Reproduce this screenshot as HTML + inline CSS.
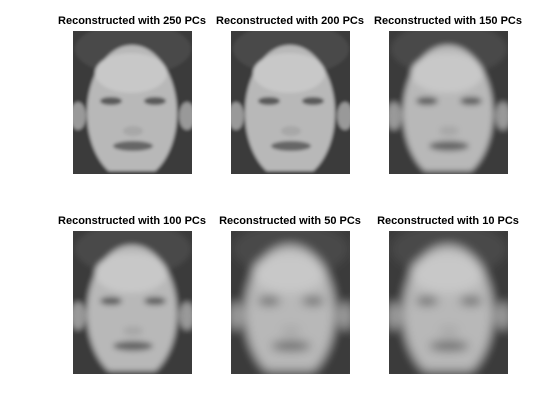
<!DOCTYPE html>
<html><head><style>
body{margin:0;background:#fff;}
svg{display:block}
text{font-family:"Liberation Sans",sans-serif;font-weight:bold;font-size:11px;fill:#000}
</style></head><body>
<svg width="560" height="420">
<defs>
<filter id="b1"><feGaussianBlur stdDeviation="1.5"/></filter>
<filter id="b2"><feGaussianBlur stdDeviation="3"/></filter>
<filter id="b3"><feGaussianBlur stdDeviation="5"/></filter>
<g id="face">
<rect x="-10" y="-10" width="139" height="163" fill="#3a3a3a"/>
<ellipse cx="60" cy="18" rx="58" ry="26" fill="#4a4a4a"/>
<ellipse cx="5" cy="85" rx="8" ry="14" fill="#999"/>
<ellipse cx="114" cy="85" rx="8" ry="14" fill="#999"/>
<ellipse cx="59" cy="82" rx="45" ry="68" fill="#b8b8b8"/>
<ellipse cx="58" cy="42" rx="36" ry="20" fill="#c8c8c8"/>
<ellipse cx="38" cy="70" rx="11" ry="4" fill="#5a5a5a"/>
<ellipse cx="82" cy="70" rx="11" ry="4" fill="#5a5a5a"/>
<ellipse cx="60" cy="100" rx="10" ry="5" fill="#a8a8a8"/>
<ellipse cx="60" cy="115" rx="20" ry="5" fill="#666"/>
<rect x="-10" y="140" width="139" height="13" fill="#3a3a3a"/>
</g>
</defs>
<g>
<text x="132" y="24" text-anchor="middle">Reconstructed with 250 PCs</text>
<svg x="73" y="31" width="119" height="143"><use href="#face" filter="url(#b1)"/></svg>
</g>
<g>
<text x="290" y="24" text-anchor="middle">Reconstructed with 200 PCs</text>
<svg x="231" y="31" width="119" height="143"><use href="#face" filter="url(#b1)"/></svg>
</g>
<g>
<text x="448" y="24" text-anchor="middle">Reconstructed with 150 PCs</text>
<svg x="389" y="31" width="119" height="143"><use href="#face" filter="url(#b2)"/></svg>
</g>
<g>
<text x="132" y="224" text-anchor="middle">Reconstructed with 100 PCs</text>
<svg x="73" y="231" width="119" height="143"><use href="#face" filter="url(#b2)"/></svg>
</g>
<g>
<text x="290" y="224" text-anchor="middle">Reconstructed with 50 PCs</text>
<svg x="231" y="231" width="119" height="143"><use href="#face" filter="url(#b3)"/></svg>
</g>
<g>
<text x="448" y="224" text-anchor="middle">Reconstructed with 10 PCs</text>
<svg x="389" y="231" width="119" height="143"><use href="#face" filter="url(#b3)"/></svg>
</g>
</svg>
</body></html>
